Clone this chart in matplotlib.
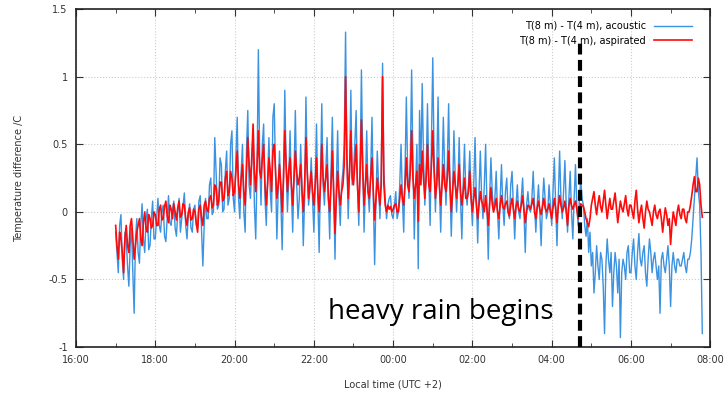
import numpy as np
import matplotlib.pyplot as plt
from matplotlib.ticker import MultipleLocator

# temperature difference, sampled every 2 min from 17:00 (one row per hour)
acoustic = [
    [-0.15, -0.3, -0.45, -0.1, -0.02, -0.35, -0.5, -0.15, -0.2, -0.4, -0.55, -0.25, -0.12, -0.45, -0.75,
     -0.2, -0.05, -0.3, -0.38, -0.1, 0.06, -0.2, -0.3, -0.05, 0.02, -0.28, -0.25, -0.05, 0.08, -0.2],
    [-0.2, -0.05, 0.1, -0.1, -0.15, 0.0, 0.05, -0.18, -0.22, -0.05, 0.12, -0.08, -0.1, 0.02, 0.08,
     -0.12, -0.18, 0.0, 0.1, -0.15, -0.05, 0.05, 0.14, -0.1, -0.2, -0.02, 0.06, -0.12, -0.15, 0.02],
    [0.05, -0.1, -0.12, 0.08, 0.12, -0.15, -0.4, -0.1, 0.1, -0.05, -0.05, 0.2, 0.25, -0.02, 0.0,
     0.55, 0.3, 0.02, 0.05, 0.4, 0.35, 0.0, 0.02, 0.3, 0.45, 0.05, 0.1, 0.5, 0.6, 0.1],
    [0.0, 0.4, 0.7, 0.1, -0.05, 0.3, 0.5, 0.0, -0.15, 0.45, 0.75, 0.2, 0.1, 0.35, 0.6,
     0.05, -0.2, 0.3, 1.2, 0.4, 0.05, 0.5, 0.65, 0.1, -0.1, 0.25, 0.55, 0.15, 0.0, 0.7],
    [0.8, 0.3, -0.2, 0.15, 0.45, 0.1, -0.28, 0.2, 0.9, 0.35, 0.0, 0.25, 0.6, 0.15, -0.15,
     0.3, 0.75, 0.2, -0.05, 0.1, 0.5, 0.2, -0.25, 0.1, 0.85, 0.3, 0.05, 0.15, 0.4, 0.1],
    [-0.15, 0.2, 0.65, 0.1, -0.3, 0.25, 0.8, 0.2, 0.05, 0.3, 0.55, 0.1, -0.2, 0.3, 0.7,
     0.15, -0.35, 0.2, 0.6, 0.1, -0.1, 0.2, 0.3, 0.5, 1.33, 0.4, -0.05, 0.3, 0.9, 0.2],
    [0.3, 0.5, 0.75, 0.2, -0.1, 0.3, 1.05, 0.35, -0.15, 0.2, 0.6, 0.15, 0.0, 0.3, 0.7,
     0.1, -0.39, 0.1, 0.45, 0.2, -0.05, 0.3, 1.1, 0.3, 0.1, -0.05, 0.05, 0.1, 0.12, -0.02],
    [-0.05, 0.05, 0.15, -0.05, 0.0, 0.2, 0.5, 0.1, -0.15, 0.3, 0.85, 0.3, 0.1, 0.4, 1.05,
     0.35, -0.2, 0.2, 0.5, -0.42, 0.75, 0.3, 0.95, 0.4, 0.05, 0.3, 0.8, 0.25, -0.1, 0.5],
    [1.14, 0.4, 0.0, 0.3, 0.85, 0.2, -0.15, 0.25, 0.7, 0.3, 0.05, 0.35, 0.8, 0.2, -0.18,
     0.15, 0.6, 0.25, 0.0, 0.2, 0.55, 0.1, -0.2, 0.2, 0.5, 0.15, 0.05, 0.2, 0.45, 0.1],
    [-0.1, 0.2, 0.55, 0.1, -0.23, 0.15, 0.45, 0.1, -0.05, 0.2, 0.5, 0.05, -0.35, 0.1, 0.4,
     0.15, 0.0, 0.1, 0.3, 0.0, -0.2, 0.1, 0.35, 0.05, -0.1, 0.15, 0.25, 0.0, -0.05, 0.2],
    [0.3, 0.05, -0.2, 0.05, 0.2, 0.0, -0.05, 0.1, 0.25, 0.0, -0.3, 0.05, 0.15, 0.02, 0.0,
     0.1, 0.3, 0.05, -0.15, 0.05, 0.2, 0.0, -0.25, 0.05, 0.25, 0.1, -0.05, 0.0, 0.2, 0.05],
    [-0.1, 0.15, 0.4, 0.05, -0.25, 0.1, 0.45, 0.1, -0.05, 0.15, 0.38, 0.05, -0.15, 0.1, 0.3,
     0.0, -0.2, 0.1, 0.35, 0.05, -0.1, 0.1, 0.24, 0.1, 0.05, -0.1, -0.18, -0.05, -0.3, -0.15],
    [-0.4, -0.3, -0.6, -0.45, -0.25, -0.4, -0.5, -0.3, -0.35, -0.55, -0.9, -0.4, -0.2, -0.35, -0.45,
     -0.3, -0.7, -0.45, -0.3, -0.4, -0.6, -0.35, -0.93, -0.45, -0.35, -0.4, -0.5, -0.3, -0.25, -0.45],
    [-0.45, -0.3, -0.2, -0.4, -0.5, -0.3, -0.16, -0.35, -0.4, -0.3, -0.25, -0.45, -0.55, -0.35, -0.2,
     -0.3, -0.45, -0.35, -0.3, -0.4, -0.5, -0.4, -0.75, -0.35, -0.3, -0.4, -0.45, -0.35, -0.25, -0.4],
    [-0.7, -0.4, -0.3, -0.4, -0.45, -0.35, -0.35, -0.4, -0.4, -0.35, -0.3, -0.4, -0.45,
     -0.35, -0.35, -0.3, -0.2, -0.05, 0.1, 0.25, 0.4, 0.15, 0.05, -0.3, -0.9],
]
aspirated = [
    [-0.1, -0.25, -0.35, -0.15, -0.2, -0.3, -0.45, -0.2, -0.1, -0.25, -0.3, -0.1, -0.05, -0.2, -0.35,
     -0.25, -0.15, -0.1, -0.05, -0.2, -0.25, -0.08, 0.0, -0.12, -0.15, -0.02, -0.05, -0.12, -0.1, 0.0],
    [-0.02, -0.1, -0.1, 0.02, 0.05, -0.06, -0.05, 0.04, 0.08, -0.03, -0.08, 0.05, 0.02, -0.05, 0.06,
     0.0, -0.06, 0.03, 0.08, -0.04, -0.02, 0.06, 0.05, -0.05, -0.1, 0.0, 0.03, -0.06, -0.05, 0.02],
    [0.0, -0.08, -0.15, 0.02, 0.05, -0.05, -0.1, 0.05, 0.08, 0.02, 0.0, 0.1, 0.12, 0.03, 0.05,
     0.2, 0.18, 0.05, 0.08, 0.22, 0.22, 0.08, 0.1, 0.25, 0.3, 0.12, 0.15, 0.3, 0.25, 0.12],
    [0.15, 0.3, 0.45, 0.2, 0.1, 0.25, 0.35, 0.15, 0.05, 0.3, 0.55, 0.35, 0.2, 0.4, 0.65,
     0.3, 0.15, 0.35, 0.6, 0.3, 0.25, 0.4, 0.5, 0.2, 0.05, 0.2, 0.4, 0.3, 0.15, 0.45],
    [0.5, 0.3, 0.1, 0.2, 0.35, 0.2, 0.0, 0.25, 0.6, 0.35, 0.15, 0.3, 0.4, 0.2, 0.05,
     0.25, 0.45, 0.3, 0.2, 0.25, 0.35, 0.15, 0.0, 0.2, 0.55, 0.3, 0.1, 0.2, 0.3, 0.15],
    [0.05, 0.2, 0.4, 0.15, 0.0, 0.2, 0.5, 0.25, 0.15, 0.25, 0.35, 0.1, 0.0, 0.2, 0.45,
     0.15, -0.16, 0.1, 0.3, 0.15, 0.05, 0.15, 0.2, 0.35, 1.0, 0.4, 0.1, 0.3, 0.6, 0.25],
    [0.2, 0.35, 0.5, 0.2, 0.0, 0.3, 0.68, 0.3, 0.05, 0.2, 0.35, 0.15, 0.1, 0.25, 0.4,
     0.15, -0.06, 0.1, 0.25, 0.15, 0.05, 0.2, 1.0, 0.2, 0.05, 0.0, 0.05, 0.02, 0.04, 0.0],
    [0.02, 0.05, 0.06, 0.0, 0.0, 0.1, 0.2, 0.1, 0.05, 0.2, 0.4, 0.2, 0.15, 0.3, 0.6,
     0.25, 0.1, 0.2, 0.3, -0.07, 0.35, 0.2, 0.45, 0.25, 0.1, 0.25, 0.5, 0.2, 0.15, 0.35],
    [0.6, 0.3, 0.1, 0.2, 0.4, 0.2, 0.05, 0.2, 0.35, 0.2, 0.15, 0.25, 0.45, 0.2, 0.0,
     0.15, 0.3, 0.2, 0.1, 0.2, 0.35, 0.15, 0.05, 0.15, 0.25, 0.1, 0.1, 0.15, 0.3, 0.1],
    [0.0, 0.1, 0.18, 0.05, -0.05, 0.05, 0.15, 0.08, 0.05, 0.0, 0.12, 0.02, -0.1, 0.05, 0.18,
     0.06, 0.0, 0.04, 0.1, 0.0, -0.05, 0.05, 0.12, 0.04, 0.02, 0.06, 0.08, 0.0, -0.03, 0.05],
    [0.1, 0.02, -0.05, 0.04, 0.08, 0.02, 0.0, 0.05, 0.12, 0.02, -0.08, 0.0, 0.05, 0.04, 0.02,
     0.06, 0.1, 0.0, -0.05, 0.03, 0.08, 0.02, -0.02, 0.04, 0.1, 0.03, 0.0, 0.02, 0.06, 0.0],
    [-0.05, 0.03, 0.1, 0.02, -0.08, 0.04, 0.12, 0.05, 0.0, 0.03, 0.08, 0.0, -0.1, 0.04, 0.1,
     0.05, 0.02, 0.05, 0.08, 0.02, -0.05, 0.02, 0.06, 0.05, 0.04, 0.0, -0.05, -0.08, -0.11, -0.05],
    [0.05, 0.1, 0.15, 0.05, -0.02, 0.06, 0.12, 0.04, 0.0, 0.08, 0.16, 0.05, -0.05, 0.03, 0.1,
     0.02, 0.02, 0.08, 0.14, 0.03, -0.08, 0.0, 0.08, 0.03, 0.0, 0.06, 0.12, 0.02, -0.03, 0.05],
    [0.05, 0.0, -0.05, 0.08, 0.16, 0.02, -0.08, 0.0, 0.05, -0.05, -0.12, 0.0, 0.08, 0.02, 0.0,
     -0.05, -0.1, 0.0, 0.05, -0.02, -0.05, 0.0, 0.02, -0.05, -0.15, -0.05, 0.03, -0.02, -0.1, -0.05],
    [-0.24, -0.1, 0.0, -0.05, -0.1, 0.0, 0.05, -0.02, -0.05, 0.02, 0.02, -0.05, -0.08,
     0.0, 0.0, 0.05, 0.12, 0.2, 0.26, 0.15, 0.15, 0.25, 0.2, 0.05, -0.04],
]
start_hour = 1.0      # 17:00, hours after 16:00
step_min = 2
rain_start = 12.72    # 04:43
tick_labels = ['16:00', '18:00', '20:00', '22:00', '00:00', '02:00', '04:00', '06:00', '08:00']

ac = np.concatenate([np.array(r) for r in acoustic])
asp = np.concatenate([np.array(r) for r in aspirated])
t = start_hour + np.arange(len(ac)) * step_min / 60.0

fig = plt.figure(figsize=(7.24, 3.98), dpi=100)
ax = fig.add_axes([0.105, 0.128, 0.876, 0.849])

ax.plot(t, ac, color='#3a92e0', lw=1.0, label='T(8 m) - T(4 m), acoustic')
ax.plot(t, asp, color='#ff0a0a', lw=1.2, label='T(8 m) - T(4 m), aspirated')
ax.plot([rain_start, rain_start], [-1, 1.26], color='black', lw=3, ls=(0, (2.6, 1.3)), zorder=5)
ax.text(6.36, -0.79, 'heavy rain begins', fontsize=20, family='Open Sans', color='black')

ax.set_xlim(0, 16)
ax.set_ylim(-1, 1.5)
ax.xaxis.set_minor_locator(MultipleLocator(1))
ax.set_xticks(np.arange(0, 17, 2))
ax.set_xticklabels(tick_labels)
ax.set_yticks([-1, -0.5, 0, 0.5, 1, 1.5])
ax.set_yticklabels(['-1', '-0.5', '0', '0.5', '1', '1.5'])
ax.tick_params(which='both', direction='in', top=True, right=True, labelsize=7, colors='#333333', pad=6)
ax.tick_params(which='major', length=5)
ax.tick_params(which='minor', length=3)
ax.grid(True, which='major', color='#cccccc', ls=':', lw=0.8)
for s in ax.spines.values():
    s.set_linewidth(1.2)
    s.set_color('#222222')

ax.set_xlabel('Local time (UTC +2)', fontsize=7, color='#333333', labelpad=10)
ax.set_ylabel('Temperature difference /C', fontsize=7, color='#333333', labelpad=18)

ax.legend(loc='upper right', bbox_to_anchor=(0.986, 0.994), frameon=False, markerfirst=False,
          fontsize=7, handlelength=3.9, borderaxespad=0.6, labelspacing=0.5)

fig.savefig('out.png', dpi=100)
